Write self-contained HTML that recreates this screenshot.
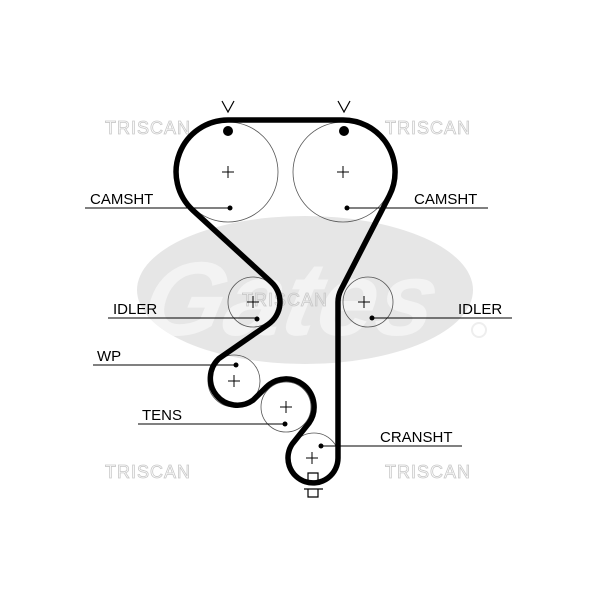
<!DOCTYPE html>
<html><head><meta charset="utf-8"><style>
html,body{margin:0;padding:0;background:#fff;}
svg{display:block;}
text{font-family:"Liberation Sans",Arial,sans-serif;}
</style></head><body>
<svg width="600" height="600" viewBox="0 0 600 600" xmlns="http://www.w3.org/2000/svg">
<defs><clipPath id="el"><ellipse cx="305" cy="290" rx="168" ry="74"/></clipPath></defs>
<rect width="600" height="600" fill="#fff"/>
<!-- gates logo background -->
<ellipse cx="305" cy="290" rx="168" ry="74" fill="#e6e6e6"/>
<g clip-path="url(#el)">
<text x="355" y="335" font-size="105" font-style="italic" font-weight="bold" fill="#f3f3f3" text-anchor="middle" transform="skewX(-12)">Gates</text>
</g>
<circle cx="479" cy="330" r="7" fill="none" stroke="#eee" stroke-width="2"/>
<!-- watermarks -->
<g font-size="18" fill="none" stroke="#c8c8c8" stroke-width="0.8" letter-spacing="1">
<text x="105" y="134">TRISCAN</text>
<text x="385" y="134">TRISCAN</text>
<text x="105" y="478">TRISCAN</text>
<text x="385" y="478">TRISCAN</text>
<text x="242" y="306">TRISCAN</text>
</g>
<!-- pulleys -->
<g fill="none" stroke="#555" stroke-width="0.8">
<circle cx="228" cy="172" r="50"/>
<circle cx="343" cy="172" r="50"/>
<circle cx="253" cy="302" r="25"/>
<circle cx="368" cy="302" r="25"/>
<circle cx="234" cy="381" r="26"/>
<circle cx="286" cy="407" r="25"/>
<circle cx="314" cy="458" r="25"/>
</g>
<!-- belt -->
<path d="M228,120 L343,120 A52,52 0 0 1 389.3,195.8 L341,289.7 A27,27 0 0 0 338,302 L338,458 A25,25 0 1 1 292.5,443.6 L309,423 A28,28 0 0 0 266.4,387 L252.9,400.3 A27,27 0 0 1 218.6,358.8 L268.4,324.2 A27,27 0 0 0 271.2,282.1 L192.9,210.3 A52,52 0 0 1 228,120 Z" fill="none" stroke="#000" stroke-width="5.5" stroke-linejoin="round"/>
<!-- plus marks -->
<g stroke="#000" stroke-width="1">
<path d="M222,172h12M228,166v12"/>
<path d="M337,172h12M343,166v12"/>
<path d="M247,302h12M253,296v12"/>
<path d="M358,302h12M364,296v12"/>
<path d="M228,381h12M234,375v12"/>
<path d="M280,407h12M286,401v12"/>
<path d="M306,458h12M312,452v12"/>
</g>
<!-- dots -->
<g fill="#000">
<circle cx="228" cy="131" r="5"/>
<circle cx="344" cy="131" r="5"/>
<circle cx="230" cy="208" r="2.5"/>
<circle cx="347" cy="208" r="2.5"/>
<circle cx="257" cy="319" r="2.5"/>
<circle cx="372" cy="318" r="2.5"/>
<circle cx="236" cy="365" r="2.5"/>
<circle cx="285" cy="424" r="2.5"/>
<circle cx="321" cy="446" r="2.5"/>
</g>
<!-- V marks -->
<g stroke="#000" stroke-width="1.2" fill="none">
<path d="M222,101 L228,112 L234,101"/>
<path d="M338,101 L344,112 L350,101"/>
<!-- notch -->
<path d="M308,481 V473 H318 V481"/>
<path d="M304,489 H323 M308,489 V497 H318 V489"/>
</g>
<!-- leader lines -->
<g stroke="#000" stroke-width="1">
<path d="M85,208H230"/>
<path d="M347,208H488"/>
<path d="M108,318H257"/>
<path d="M372,318H512"/>
<path d="M93,365H236"/>
<path d="M138,424H285"/>
<path d="M321,446H462"/>
</g>
<g font-size="15" fill="#000">
<text x="90" y="204">CAMSHT</text>
<text x="414" y="204">CAMSHT</text>
<text x="113" y="314">IDLER</text>
<text x="458" y="314">IDLER</text>
<text x="97" y="361">WP</text>
<text x="142" y="420">TENS</text>
<text x="380" y="442">CRANSHT</text>
</g>
</svg>
</body></html>
